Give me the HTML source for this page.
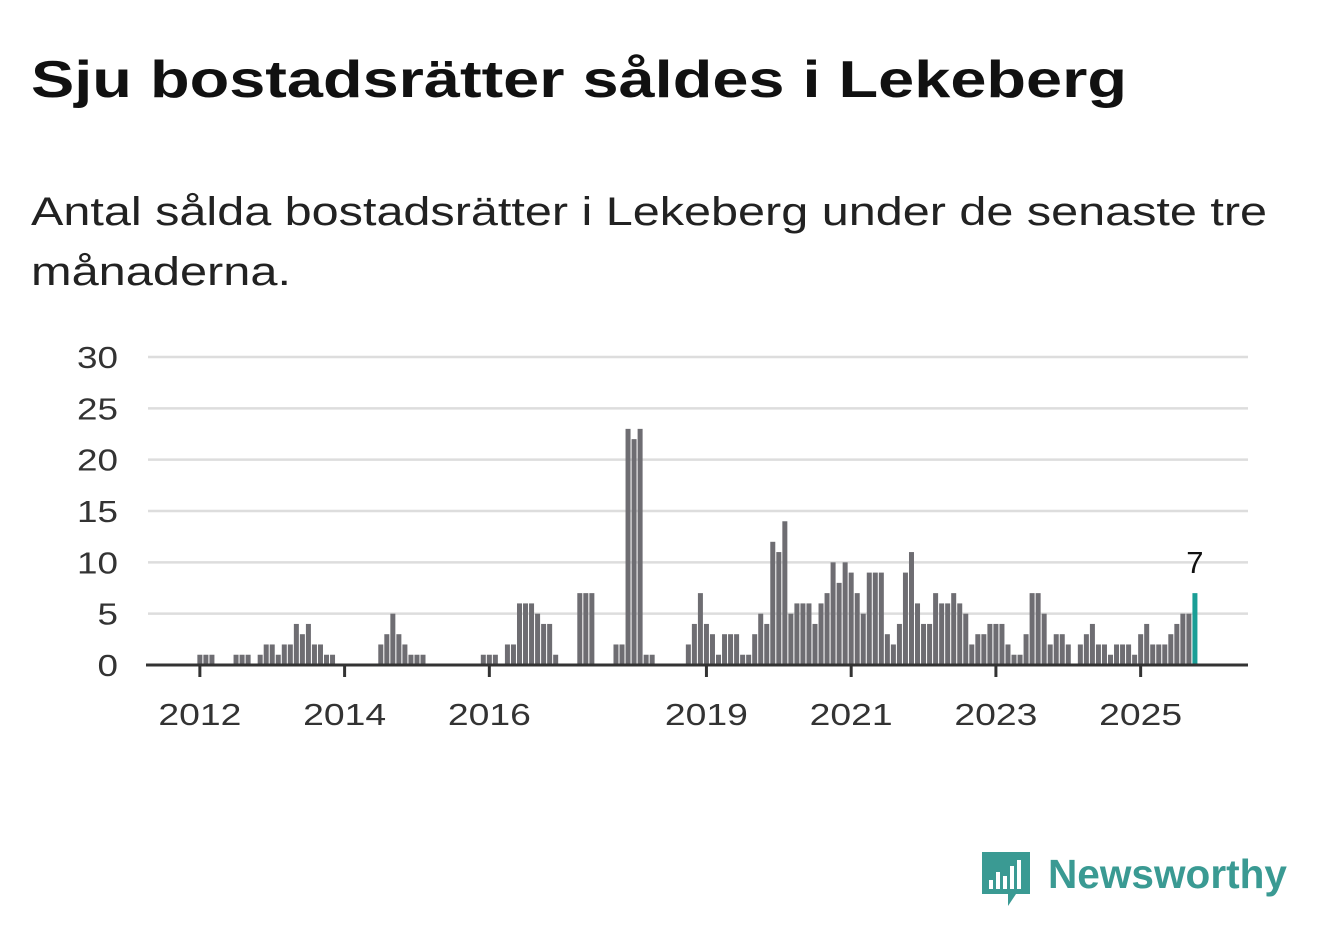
<!DOCTYPE html>
<html><head><meta charset="utf-8"><style>
body{margin:0;background:#fff;width:1322px;height:939px;overflow:hidden;font-family:"Liberation Sans",sans-serif}
</style></head><body>
<svg width="1322" height="939" viewBox="0 0 1322 939">
<text x="31" y="97" font-size="52" font-weight="bold" fill="#111" textLength="1096" lengthAdjust="spacingAndGlyphs">Sju bostadsrätter såldes i Lekeberg</text>
<text x="31" y="225" font-size="40" fill="#222" textLength="1236" lengthAdjust="spacingAndGlyphs">Antal sålda bostadsrätter i Lekeberg under de senaste tre</text>
<text x="31" y="285" font-size="40" fill="#222" textLength="260" lengthAdjust="spacingAndGlyphs">månaderna.</text>
<g id="grid"></g><g id="bars"></g><g id="axis"></g>
<g>
<path d="M982 852 h48 v42 h-14 l-8 12 v-12 h-26 z" fill="#3a9a93"/>
<rect x="989" y="880" width="4" height="9" fill="#fff"/><rect x="996" y="872" width="4" height="17" fill="#fff"/><rect x="1003" y="876" width="4" height="13" fill="#fff"/><rect x="1010" y="866" width="4" height="23" fill="#fff"/><rect x="1017" y="860" width="4" height="29" fill="#fff"/>
<text x="1048" y="888" font-size="41" font-weight="bold" fill="#3a9a93" textLength="239" lengthAdjust="spacingAndGlyphs">Newsworthy</text>
</g>
</svg>
<script>
const values=[1,1,1,0,0,0,1,1,1,0,1,2,2,1,2,2,4,3,4,2,2,1,1,
0,0,0,0,0,0,0,2,3,5,3,2,1,1,1,
0,0,0,0,0,0,0,0,0,1,1,1,0,2,2,6,6,6,5,4,4,1,
0,0,0,7,7,7,0,0,0,2,2,23,22,23,1,1,0,0,0,0,0,
2,4,7,4,3,1,3,3,3,1,1,
3,5,4,12,11,14,5,6,6,6,4,6,7,10,8,10,
9,7,5,9,9,9,3,2,4,9,11,6,4,4,7,6,
6,7,6,5,2,3,3,4,4,4,2,1,1,3,7,7,
5,2,3,3,2,0,2,3,4,2,2,1,2,2,2,1,
3,4,2,2,2,3,4,5,5,7];
const yTicks=[0,5,10,15,20,25,30];
const tickYears=[2012,2014,2016,2019,2021,2023,2025];
const startYear=2012;
const NS="http://www.w3.org/2000/svg";
const x0=148,x1=1248,mMin=-8.6,mMax=173.8,yBase=665,yTop=357,yMax=30;
const xs=m=>x0+(m-mMin)/(mMax-mMin)*(x1-x0);
const ys=v=>yBase-v/yMax*(yBase-yTop);
function mk(t,a,p){const e=document.createElementNS(NS,t);for(const k in a)e.setAttribute(k,a[k]);p.appendChild(e);return e;}
const grid=document.getElementById('grid'),bars=document.getElementById('bars'),axis=document.getElementById('axis');
yTicks.forEach(v=>{
 if(v>0){const l=mk('line',{x1:x0,x2:x1,y1:ys(v),y2:ys(v),stroke:'#ddd','stroke-width':2.5},grid);
 
 }
 const s=String(v);
 const t=mk('text',{x:118,y:ys(v)+11,'font-size':31,fill:'#333','text-anchor':'end',textLength:20.5*s.length,lengthAdjust:'spacingAndGlyphs'},grid);t.textContent=s;
 
 
});
const last=values.length-1;
values.forEach((v,i)=>{if(v<=0)return;
 const r=mk('rect',{x:xs(i)-2.5,y:ys(v),width:5,height:yBase-ys(v),fill:i===last?'#1a9e96':'#6e6d72'},bars);
 
 
});
const lab=mk('text',{x:xs(last),y:ys(values[last])-20,'font-size':31,fill:'#111','text-anchor':'middle'},bars);lab.textContent=values[last];


const ax=mk('line',{x1:x0-2,x2:x1,y1:yBase,y2:yBase,stroke:'#333','stroke-width':3},axis);


tickYears.forEach(y=>{const m=(y-startYear)*12;
 const tk=mk('line',{x1:xs(m),x2:xs(m),y1:yBase,y2:yBase+12,stroke:'#333','stroke-width':3},axis);
 
 
 const t=mk('text',{x:xs(m),y:725,'font-size':31,fill:'#333','text-anchor':'middle',textLength:83,lengthAdjust:'spacingAndGlyphs'},axis);t.textContent=y;
 
 
});
</script>
</body></html>
